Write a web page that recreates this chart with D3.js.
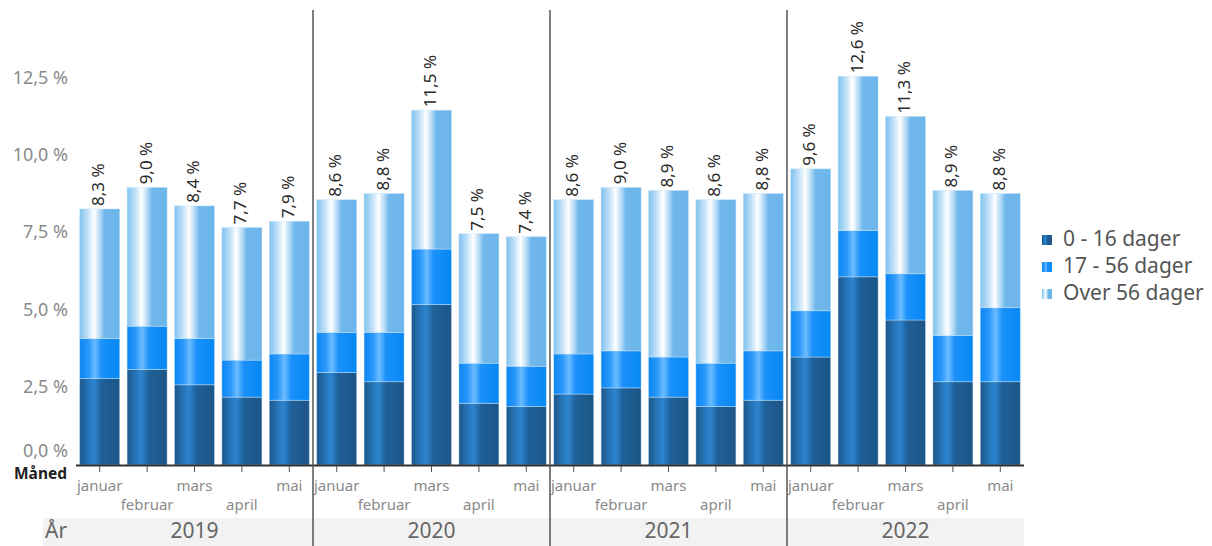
<!DOCTYPE html>
<html>
<head>
<meta charset="utf-8">
<script src="https://cdn.jsdelivr.net/npm/d3@7"></script>
<style>
  body { margin: 0; background: #fff; }
  text { font-family: "Noto Sans", Lato, sans-serif; }
</style>
</head>
<body>
<div id="chart"></div>
<script>
// data
var years = ["2019", "2020", "2021", "2022"];
var months = ["januar", "februar", "mars", "april", "mai"];
var seriesNames = ["0 - 16 dager", "17 - 56 dager", "Over 56 dager"];
// one value per bar, years in order, months inside each year
var short16 = [2.8, 3.1, 2.6, 2.2, 2.1,  3.0, 2.7, 5.2, 2.0, 1.9,  2.3, 2.5, 2.2, 1.9, 2.1,  3.5, 6.1, 4.7, 2.7, 2.7];
var mid56   = [1.3, 1.4, 1.5, 1.2, 1.5,  1.3, 1.6, 1.8, 1.3, 1.3,  1.3, 1.2, 1.3, 1.4, 1.6,  1.5, 1.5, 1.5, 1.5, 2.4];
var over56  = [4.2, 4.5, 4.3, 4.3, 4.3,  4.3, 4.5, 4.5, 4.2, 4.2,  5.0, 5.3, 5.4, 5.3, 5.1,  4.6, 5.0, 5.1, 4.7, 3.7];
var yTicks = [0, 2.5, 5, 7.5, 10, 12.5];

var W = 1212, H = 546;
var plot = { left: 76, right: 1024, top: 10, base: 465 };

var svg = d3.select("#chart").append("svg")
    .attr("width", W).attr("height", H);

// gradients for the three series
var gradStops = [
    [["0%", "#1d5688"], ["18%", "#2470b2"], ["36%", "#2d85cf"], ["55%", "#1f5f98"], ["100%", "#1d5686"]],
    [["0%", "#0b86f2"], ["22%", "#2a98fb"], ["38%", "#6bbcff"], ["55%", "#1a90fa"], ["100%", "#0588f3"]],
    [["0%", "#80c2ee"], ["20%", "#bfe0f8"], ["36%", "#ffffff"], ["50%", "#b8dcf6"], ["62%", "#70b8ec"], ["100%", "#6cb5ea"]]
];
var defs = svg.append("defs");
gradStops.forEach(function(stops, i) {
    var g = defs.append("linearGradient").attr("id", "grad" + i)
        .attr("x1", "0%").attr("x2", "100%").attr("y1", "0%").attr("y2", "0%");
    stops.forEach(function(s) {
        g.append("stop").attr("offset", s[0]).attr("stop-color", s[1]);
    });
});

var y = d3.scaleLinear().domain([0, 12.5]).range([plot.base, plot.base - 12.5 * 30.85]);
var xYear = d3.scaleBand().domain(years).range([plot.left, plot.right]).padding(0);
var xMonth = d3.scaleBand().domain(months).range([0, xYear.bandwidth()])
    .paddingInner(0.156).paddingOuter(0.078);

function barX(d) { return xYear(d.year) + xMonth(d.month); }
function fmt(v) { return d3.format(".1f")(v).replace(".", ",") + " %"; }

// build rows
var rows = [];
years.forEach(function(yr, yi) {
    months.forEach(function(m, mi) {
        var i = yi * 5 + mi;
        rows.push({ year: yr, month: m, s0: short16[i], s1: mid56[i], s2: over56[i] });
    });
});
var stack = d3.stack().keys(["s0", "s1", "s2"])(rows);

// year band at bottom
svg.append("rect").attr("x", 43).attr("y", 518).attr("width", plot.right - 43).attr("height", 28)
    .attr("fill", "#f2f2f2");

// y axis labels
var yAxis = svg.append("g");
yAxis.selectAll("text").data(yTicks).enter().append("text")
    .attr("x", 68)
    .attr("y", function(d) { return d === 0 ? y(d) - 13 : y(d); })
    .attr("text-anchor", "end")
    .attr("dominant-baseline", "middle")
    .attr("font-size", 18)
    .attr("fill", "#8a8a8a")
    .text(fmt);

// bars
var barG = svg.append("g");
stack.forEach(function(layer, li) {
    barG.append("g").selectAll("rect").data(layer).enter().append("rect")
        .attr("x", function(d) { return barX(d.data); })
        .attr("width", xMonth.bandwidth())
        .attr("y", function(d) { return y(d[1]); })
        .attr("height", function(d) { return y(d[0]) - y(d[1]); })
        .attr("fill", "url(#grad" + li + ")")
        .attr("stroke", "rgba(200,228,250,0.55)")
        .attr("stroke-width", 0.8);
});

// value labels, rotated
var topLayer = stack[2];
svg.append("g").selectAll("text").data(topLayer).enter().append("text")
    .attr("transform", function(d) {
        var cx = barX(d.data) + xMonth.bandwidth() / 2;
        return "translate(" + cx + "," + (y(d[1]) - 3) + ") rotate(-90)";
    })
    .attr("dominant-baseline", "middle")
    .attr("font-size", 17)
    .attr("fill", "#2a2a2a")
    .text(function(d) { return fmt(d[1]); });

// x axis line and ticks
svg.append("line").attr("x1", plot.left).attr("x2", plot.right)
    .attr("y1", plot.base + 0.5).attr("y2", plot.base + 0.5)
    .attr("stroke", "#333").attr("stroke-width", 2);

var ticks = svg.append("g");
rows.forEach(function(d) {
    var cx = barX(d) + xMonth.bandwidth() / 2;
    ticks.append("line").attr("x1", cx).attr("x2", cx)
        .attr("y1", plot.base + 1).attr("y2", plot.base + 7)
        .attr("stroke", "#555").attr("stroke-width", 1);
    var mi = months.indexOf(d.month);
    ticks.append("text").attr("x", cx)
        .attr("y", mi % 2 === 0 ? 487 : 506)
        .attr("text-anchor", "middle")
        .attr("dominant-baseline", "middle")
        .attr("font-size", 15)
        .attr("fill", "#8a8a8a")
        .text(d.month);
});

// separators between years
svg.append("g").selectAll("line").data(years.slice(1)).enter().append("line")
    .attr("x1", function(d) { return xYear(d); })
    .attr("x2", function(d) { return xYear(d); })
    .attr("y1", plot.top).attr("y2", H)
    .attr("stroke", "#555").attr("stroke-width", 1.5);

// year labels
svg.append("g").selectAll("text").data(years).enter().append("text")
    .attr("x", function(d) { return xYear(d) + xYear.bandwidth() / 2; })
    .attr("y", 532)
    .attr("text-anchor", "middle")
    .attr("dominant-baseline", "middle")
    .attr("font-size", 21)
    .attr("fill", "#666")
    .text(function(d) { return d; });

svg.append("text").attr("x", 45).attr("y", 532)
    .attr("dominant-baseline", "middle")
    .attr("font-size", 21).attr("fill", "#666").text("År");

svg.append("text").attr("x", 14).attr("y", 475)
    .attr("dominant-baseline", "middle")
    .attr("font-size", 15.5).attr("font-weight", "bold").attr("fill", "#222").text("Måned");

// legend
var legend = svg.append("g").attr("transform", "translate(1042,240)");
seriesNames.forEach(function(name, i) {
    var row = legend.append("g").attr("transform", "translate(0," + (i * 27) + ")");
    row.append("rect").attr("x", 0).attr("y", -5).attr("width", 10).attr("height", 10)
        .attr("fill", "url(#grad" + i + ")");
    row.append("text").attr("x", 21).attr("y", 0)
        .attr("dominant-baseline", "middle")
        .attr("font-size", 21).attr("fill", "#555").text(name);
});
</script>
</body>
</html>
